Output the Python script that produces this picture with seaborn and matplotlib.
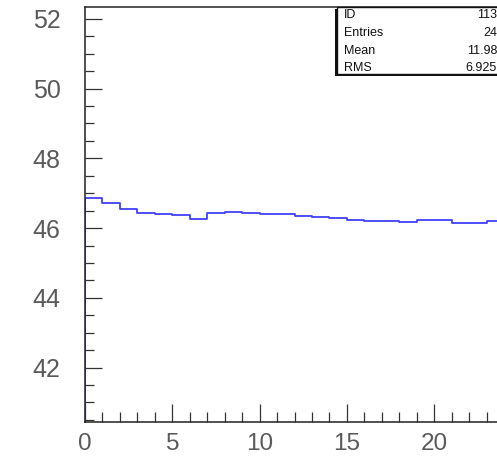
import numpy as np
import pandas as pd
import matplotlib
matplotlib.use("Agg")
import matplotlib.pyplot as plt
from matplotlib.patches import Rectangle
from matplotlib.ticker import MultipleLocator
import seaborn as sns

# ---- data ----
bin_edges = list(range(0, 25))
bin_values = [46.87, 46.73, 46.56, 46.43, 46.40, 46.38, 46.26, 46.42,
              46.47, 46.43, 46.41, 46.40, 46.36, 46.31, 46.28, 46.24,
              46.19, 46.21, 46.18, 46.22, 46.24, 46.14, 46.14, 46.19]
stat_names = ["ID", "Entries", "Mean", "RMS"]
stat_values = ["113", "24", "11.98", "6.925"]
x_major = [0, 5, 10, 15, 20]
y_major = [42, 44, 46, 48, 50, 52]

sns.set_theme(style="white")
plt.rcParams["font.family"] = ["Liberation Sans", "DejaVu Sans"]

W, H = 497, 459
fig = plt.figure(figsize=(W / 100, H / 100), dpi=100)
ax = fig.add_axes([85 / W, (H - 422) / H, (504 - 85) / W, (422 - 7) / H])

# ROOT-style histogram outline: rises from the axis floor at the first edge
ymin, ymax = 40.44, 52.34
step_x = [bin_edges[0]] + bin_edges
step_y = [ymin - 5] + bin_values + [bin_values[-1]]
df = pd.DataFrame({"x": step_x, "y": step_y})
sns.lineplot(data=df, x="x", y="y", ax=ax, estimator=None, sort=False,
             drawstyle="steps-post", color="#4040ff", linewidth=1.3)

ax.set_xlim(0, 24)
ax.set_ylim(ymin, ymax)
ax.set_xlabel("")
ax.set_ylabel("")
ax.set_xticks(x_major)
ax.set_xticklabels([str(v) for v in x_major])
ax.set_yticks(y_major)
ax.set_yticklabels([str(v) for v in y_major])
ax.xaxis.set_minor_locator(MultipleLocator(1))
ax.yaxis.set_minor_locator(MultipleLocator(0.5))

for s in ["left", "bottom", "top"]:
    ax.spines[s].set_visible(True)
    ax.spines[s].set_color("#222222")
    ax.spines[s].set_linewidth(1.1)
ax.spines["right"].set_visible(False)

ax.tick_params(axis="both", which="both", direction="in", color="#333333",
               width=0.9, top=False, right=False, left=True, bottom=True)
ax.tick_params(axis="x", which="major", length=13, pad=8.0,
               labelsize=17.5, labelcolor="#5a5a5a")
ax.tick_params(axis="x", which="minor", length=7)
ax.tick_params(axis="y", which="major", length=12.5, pad=17.5,
               labelsize=18, labelcolor="#5a5a5a")
ax.tick_params(axis="y", which="minor", length=6.5)

# ---- stats box ----
def fx(px):
    return px / W

def fy(py):
    return (H - py) / H

shadow = Rectangle((fx(334.5), fy(75.5)), fx(200), (75.5 - 8.5) / H,
                   transform=fig.transFigure, facecolor="#111111",
                   edgecolor="none", zorder=5)
box = Rectangle((fx(336.5), fy(73.5)), fx(200), (73.5 - 7) / H,
                transform=fig.transFigure, facecolor="white",
                edgecolor="#111111", linewidth=1.0, zorder=6)
fig.patches.extend([shadow, box])

row_y = [15, 33, 51, 68]
for name, val, yy in zip(stat_names, stat_values, row_y):
    fig.text(fx(344), fy(yy), name, ha="left", va="center", fontsize=9,
             color="#111111", zorder=7)
    fig.text(fx(497), fy(yy), val, ha="right", va="center", fontsize=9,
             color="#111111", zorder=7)

fig.savefig("out.png", dpi=100)
